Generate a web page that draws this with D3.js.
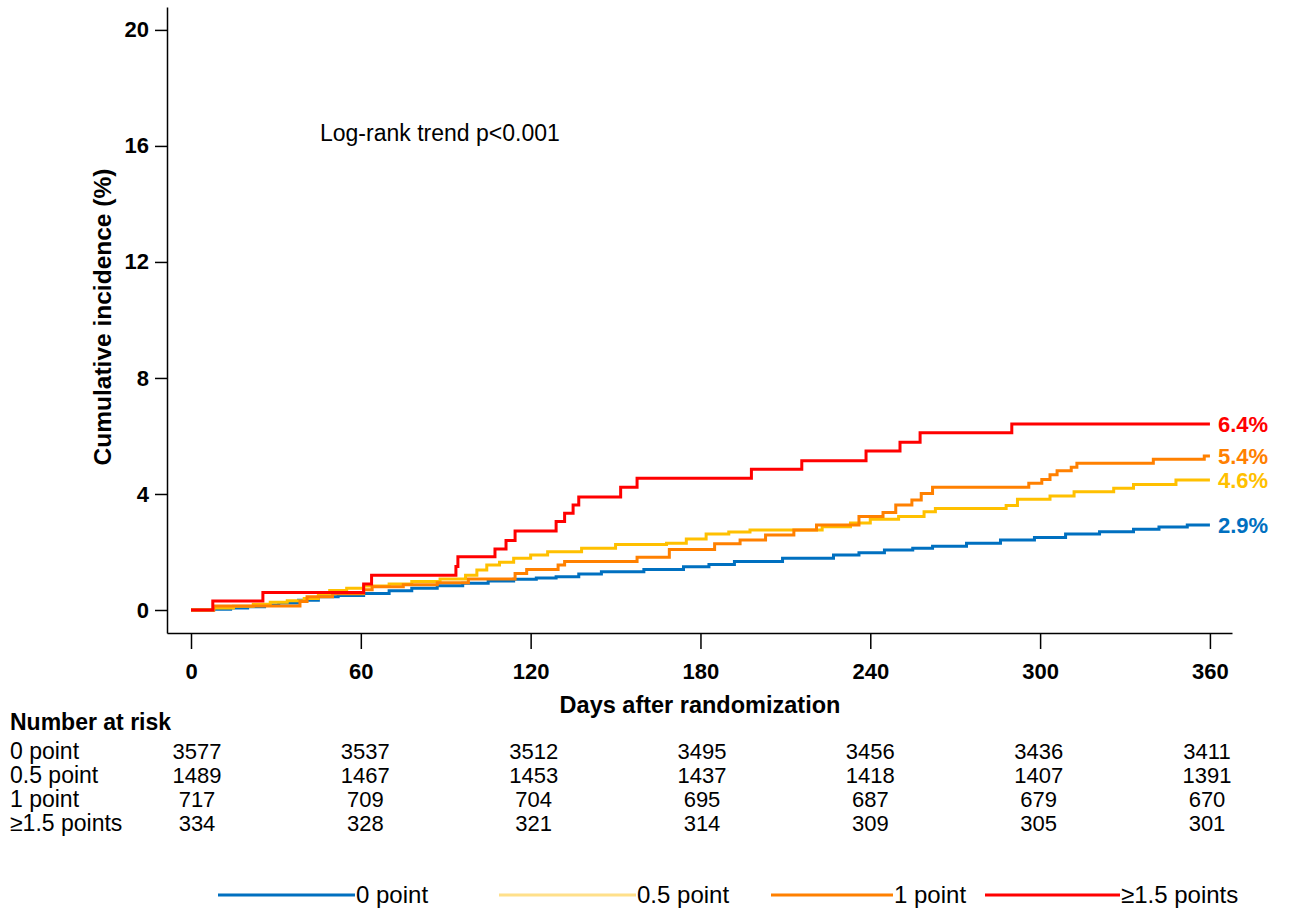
<!DOCTYPE html>
<html>
<head>
<meta charset="utf-8">
<script src="https://cdn.jsdelivr.net/npm/d3@7"></script>
<style>
  body { margin: 0; background: #fff; }
  svg { display: block; font-family: "Liberation Sans", Arial, sans-serif; }
</style>
</head>
<body>
<svg id="chart" width="1291" height="913"></svg>
<script>
// step points: [day, cumulative incidence %] from that day on
const groups = ["0 point", "0.5 point", "1 point", "≥1.5 points"];
const colors = ["#0070c0", "#ffc000", "#ff8000", "#ff0000"];
const legendColors = ["#0070c0", "#ffe08a", "#ff8000", "#ff0000"];
const endLabels = ["2.9%", "4.6%", "5.4%", "6.4%"];

const blue = [[0,0],[8,0.03],[14,0.07],[20,0.11],[26,0.17],[31,0.24],[38,0.34],[45,0.46],[52,0.5],[61,0.57],
  [70,0.66],[78,0.75],[87,0.84],[96,0.92],[105,1.0],[114,1.06],[122,1.1],[129,1.15],[137,1.24],[145,1.32],
  [160,1.4],[174,1.49],[183,1.57],[192,1.67],[209,1.78],[227,1.9],[236,1.97],[245,2.07],[255,2.13],[262,2.2],
  [274,2.3],[286,2.41],[298,2.5],[309,2.62],[321,2.7],[333,2.78],[342,2.86],[352,2.93],[360,2.93]];

const yellow = [[0,0],[8,0.07],[15,0.13],[22,0.2],[28,0.27],[34,0.32],[40,0.4],[45,0.55],[49,0.67],[55,0.75],
  [61,0.83],[70,0.9],[78,0.98],[88,1.07],[97,1.2],[101,1.38],[104.5,1.55],[109,1.65],[114,1.78],[120,1.9],
  [126,2.01],[138,2.13],[150,2.26],[168,2.3],[175,2.45],[182,2.62],[190,2.69],[197.5,2.76],[223,2.87],[233,3.0],
  [240,3.13],[250,3.22],[259,3.39],[263,3.5],[288,3.6],[292,3.82],[303.5,3.93],[312,4.08],[326,4.2],[333,4.33],
  [348,4.48],[360,4.48]];

const orange = [[0,0],[8,0.14],[38.5,0.29],[41,0.46],[50,0.56],[61,0.7],[64,0.8],[75,0.87],[87,0.94],[98,1.07],
  [114.5,1.26],[118.6,1.4],[129.7,1.55],[132,1.67],[157.6,1.82],[169,2.09],[185,2.28],[194,2.41],[203,2.59],
  [213,2.76],[221,2.93],[236,3.22],[244.5,3.36],[249,3.62],[254.7,3.79],[258,4.02],[262,4.23],[296,4.37],
  [300.6,4.5],[303.5,4.66],[306,4.8],[311,4.92],[313,5.06],[340,5.2],[358,5.31],[360,5.31]];

const red = [[0,0],[7.7,0.31],[25.4,0.6],[61,0.9],[63.8,1.2],[93.6,1.5],[94.3,1.84],[107.4,2.1],[111.3,2.4],
  [114.5,2.72],[129,3.05],[132,3.34],[135,3.62],[137,3.9],[151.8,4.23],[157.6,4.54],[198,4.85],[215.8,5.15],
  [238.5,5.48],[250.5,5.78],[257.6,6.11],[290,6.41],[360,6.41]];

const series = [blue, yellow, orange, red];

const xTicks = [0, 60, 120, 180, 240, 300, 360];
const yTicks = [0, 4, 8, 12, 16, 20];

const riskDays = [0, 60, 120, 180, 240, 300, 360];
const riskCounts = [
  [3577, 3537, 3512, 3495, 3456, 3436, 3411],
  [1489, 1467, 1453, 1437, 1418, 1407, 1391],
  [717, 709, 704, 695, 687, 679, 670],
  [334, 328, 321, 314, 309, 305, 301]
];

const svg = d3.select("#chart");

let x = d3.scaleLinear().domain([-8.48, 367.8]).range([167, 1232]);
let y = d3.scaleLinear().domain([-0.793, 20.79]).range([633, 7]);

// axes
let xAxis = svg.append("g")
  .attr("transform", "translate(0,633)")
  .call(d3.axisBottom(x).tickValues(xTicks).tickSize(16).tickPadding(14).tickSizeOuter(0));
xAxis.selectAll("text").attr("font-size", 22).attr("font-weight", "bold")
  .attr("font-family", "Liberation Sans, Arial, sans-serif").attr("fill", "#000");

let yAxis = svg.append("g")
  .attr("transform", "translate(167,0)")
  .call(d3.axisLeft(y).tickValues(yTicks).tickSize(12).tickPadding(6).tickSizeOuter(0));
yAxis.selectAll("text").attr("font-size", 22).attr("font-weight", "bold")
  .attr("font-family", "Liberation Sans, Arial, sans-serif").attr("fill", "#000");

svg.selectAll(".domain, .tick line").attr("stroke", "#000").attr("stroke-width", 1.5);

svg.append("text")
  .attr("transform", "translate(102,317) rotate(-90)")
  .attr("text-anchor", "middle")
  .attr("dy", "0.35em")
  .attr("font-size", 24.5).attr("font-weight", "bold")
  .text("Cumulative incidence (%)");

svg.append("text")
  .attr("x", 700).attr("y", 713)
  .attr("text-anchor", "middle")
  .attr("font-size", 23.5).attr("font-weight", "bold")
  .text("Days after randomization");

svg.append("text")
  .attr("x", 320).attr("y", 141)
  .attr("font-size", 23)
  .text("Log-rank trend p<0.001");

// curves
let line = d3.line()
  .x(d => x(d[0]))
  .y(d => y(d[1]))
  .curve(d3.curveStepAfter);

svg.append("g").selectAll("path")
  .data(series)
  .join("path")
  .attr("fill", "none")
  .attr("stroke", (d, i) => colors[i])
  .attr("stroke-width", 3)
  .attr("d", line);

svg.append("g").selectAll("text")
  .data(series)
  .join("text")
  .attr("x", d => x(d[d.length - 1][0]) + 8)
  .attr("y", d => y(d[d.length - 1][1]))
  .attr("dy", "0.35em")
  .attr("font-size", 22).attr("font-weight", "bold")
  .attr("fill", (d, i) => colors[i])
  .text((d, i) => endLabels[i]);

// number at risk table
let riskX = d3.scaleLinear().domain([0, 360]).range([197, 1207]);
let rowY = d3.scaleLinear().domain([0, 3]).range([759, 831]);

svg.append("text")
  .attr("x", 10).attr("y", 730)
  .attr("font-size", 23).attr("font-weight", "bold")
  .text("Number at risk");

let rows = svg.append("g").selectAll("g")
  .data(riskCounts)
  .join("g");

rows.append("text")
  .attr("x", 10)
  .attr("y", (d, i) => rowY(i))
  .attr("font-size", 23)
  .text((d, i) => groups[i]);

rows.selectAll(".count")
  .data((d, i) => d.map((v, j) => ({v: v, day: riskDays[j], row: i})))
  .join("text")
  .attr("class", "count")
  .attr("x", d => riskX(d.day))
  .attr("y", d => rowY(d.row))
  .attr("text-anchor", "middle")
  .attr("font-size", 22)
  .text(d => d.v);

// legend
let legendSpan = [[218, 355], [499, 636], [771, 893], [985, 1120]];
let legend = svg.append("g").selectAll("g")
  .data(groups)
  .join("g")
  .attr("transform", (d, i) => `translate(${legendSpan[i][0]},895)`);

legend.append("line")
  .attr("x1", 0).attr("x2", (d, i) => legendSpan[i][1] - legendSpan[i][0])
  .attr("stroke", (d, i) => legendColors[i])
  .attr("stroke-width", 3);

legend.append("text")
  .attr("x", (d, i) => legendSpan[i][1] - legendSpan[i][0] + 1)
  .attr("dy", "0.35em")
  .attr("font-size", 24)
  .text(d => d);
</script>
</body>
</html>
